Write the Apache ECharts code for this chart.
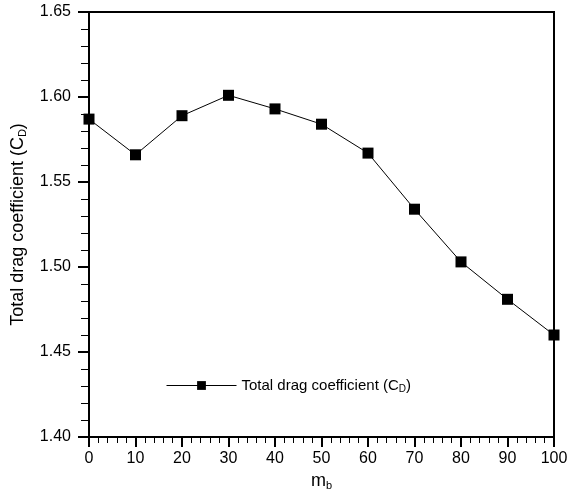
<!DOCTYPE html>
<html>
<head>
  <meta charset="UTF-8">
  <title>drag</title>
  <script src="https://cdn.jsdelivr.net/npm/echarts@6/dist/echarts.min.js"></script>
  <style>
    * { padding: 0; margin: 0; }
    #box { width: 568px; height: 493px; background: #fff; }
  </style>
</head>
<body>
  <div id="box"></div>
  <script>
    var mb = [0, 10, 20, 30, 40, 50, 60, 70, 80, 90, 100]
    var cd = [1.587, 1.566, 1.589, 1.601, 1.593, 1.584, 1.567, 1.534, 1.503, 1.481, 1.460]

    var data = []
    for (let i = 0; i < mb.length; i++) {
      data.push([mb[i], cd[i]])
    }

    var font = 'Liberation Sans, Arial, sans-serif'
    var mCharts = echarts.init(document.getElementById('box'))
    var option = {
      animation: false,
      grid: {
        left: 89, right: 14, top: 12, bottom: 56,
        outerBoundsMode: 'none', containLabel: false,
        show: true, borderColor: '#000', borderWidth: 2
      },
      legend: {
        left: 161, top: 373,
        itemWidth: 70, itemHeight: 11, itemGap: 10,
        lineStyle: { width: 1, color: '#000' },
        textStyle: {
          fontFamily: font, fontSize: 15, color: '#000',
          rich: {
            a: { fontFamily: font, fontSize: 15, color: '#000' },
            s: { fontFamily: font, fontSize: 10, color: '#000', verticalAlign: 'bottom', padding: [7, 0, 0, 0] }
          }
        },
        formatter: function () { return '{a|Total drag coefficient (C}{s|D}{a|)}' }
      },
      xAxis: {
        type: 'value', min: 0, max: 100, interval: 10,
        name: '{a|m}{s|b}', nameLocation: 'middle', nameGap: 27,
        nameTextStyle: {
          rich: {
            a: { fontFamily: font, fontSize: 18, color: '#000' },
            s: { fontFamily: font, fontSize: 11, color: '#000', padding: [10, 0, 0, 0] }
          }
        },
        axisLine: { lineStyle: { color: '#000', width: 2 } },
        axisTick: { length: 10, lineStyle: { color: '#000', width: 2 } },
        minorTick: { show: true, splitNumber: 5, length: 6, lineStyle: { color: '#000', width: 1 } },
        splitLine: { show: false },
        axisLabel: { fontFamily: font, fontSize: 16, color: '#000', margin: 14 }
      },
      yAxis: {
        type: 'value', min: 1.4, max: 1.65, interval: 0.05,
        name: '{a|Total drag coefficient (C}{s|D}{a|)}', nameLocation: 'middle', nameGap: 51,
        nameTextStyle: {
          rich: {
            a: { fontFamily: font, fontSize: 18, color: '#000' },
            s: { fontFamily: font, fontSize: 11, color: '#000', padding: [10, 0, 0, 0] }
          }
        },
        axisLine: { lineStyle: { color: '#000', width: 2 } },
        axisTick: { length: 11, lineStyle: { color: '#000', width: 2 } },
        minorTick: { show: true, splitNumber: 5, length: 8, lineStyle: { color: '#000', width: 1 } },
        splitLine: { show: false },
        axisLabel: {
          fontFamily: font, fontSize: 16, color: '#000', margin: 18,
          formatter: function (v) { return v.toFixed(2) }
        }
      },
      series: [{
        name: 'Total drag coefficient (CD)',
        type: 'line',
        data: data,
        symbol: 'rect',
        symbolSize: 11,
        itemStyle: { color: '#000' },
        lineStyle: { color: '#000', width: 1 }
      }]
    }
    mCharts.setOption(option)
  </script>
</body>
</html>
